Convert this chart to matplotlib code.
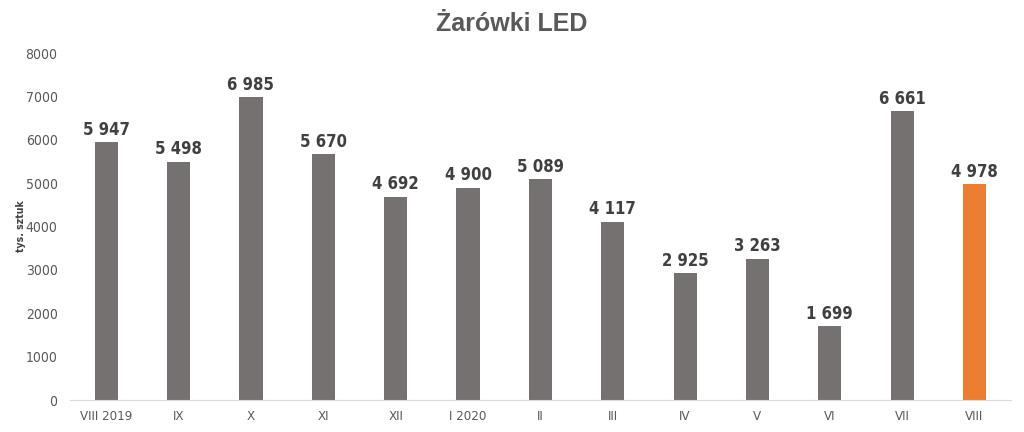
import matplotlib
matplotlib.use("Agg")
import matplotlib.pyplot as plt
import numpy as np

months = ["VIII 2019", "IX", "X", "XI", "XII", "I 2020", "II", "III", "IV", "V", "VI", "VII", "VIII"]
values = [5947, 5498, 6985, 5670, 4692, 4900, 5089, 4117, 2925, 3263, 1699, 6661, 4978]
value_labels = ["5 947", "5 498", "6 985", "5 670", "4 692", "4 900", "5 089", "4 117",
                "2 925", "3 263", "1 699", "6 661", "4 978"]

GREY = "#767171"
ORANGE = "#ED7D31"
TXT = "#595959"
DARK = "#404040"
NARROW = dict(family="DejaVu Sans", stretch="condensed")

colors = [GREY] * (len(values) - 1) + [ORANGE]

fig = plt.figure(figsize=(10.24, 4.32), dpi=100)
ax = fig.add_axes([0.0684, 0.074, 0.9186, 0.803])
x = np.arange(len(values))
ax.bar(x, values, width=0.32, color=colors)
ax.set_xlim(-0.5, len(values) - 0.5)
ax.set_ylim(0, 8000)
ax.set_yticks(range(0, 8001, 1000))
ax.set_xticks(x)
ax.set_xticklabels(months, fontsize=9.5, color=TXT, **NARROW)
for lab in ax.get_yticklabels():
    lab.set_family("DejaVu Sans")
    lab.set_stretch("condensed")
    lab.set_fontsize(10)
    lab.set_color(TXT)
ax.tick_params(length=0)
ax.tick_params(axis="x", pad=7)
ax.tick_params(axis="y", pad=9)

for i, (v, s) in enumerate(zip(values, value_labels)):
    ax.text(i, v + 80, s, ha="center", va="bottom", fontsize=12,
            fontweight="bold", color=DARK, **NARROW)

for sp in ["top", "right", "left"]:
    ax.spines[sp].set_visible(False)
ax.spines["bottom"].set_color("#d9d9d9")

ax.set_ylabel("tys. sztuk", fontsize=7.5, fontweight="bold", color=DARK, **NARROW)
ax.yaxis.set_label_coords(-0.047, 0.5)
fig.text(0.5, 0.945, "Żarówki LED", ha="center", va="center",
         family=["Liberation Sans", "DejaVu Sans"], fontsize=18, fontweight="bold", color=TXT)

fig.savefig("out.png", dpi=100)
